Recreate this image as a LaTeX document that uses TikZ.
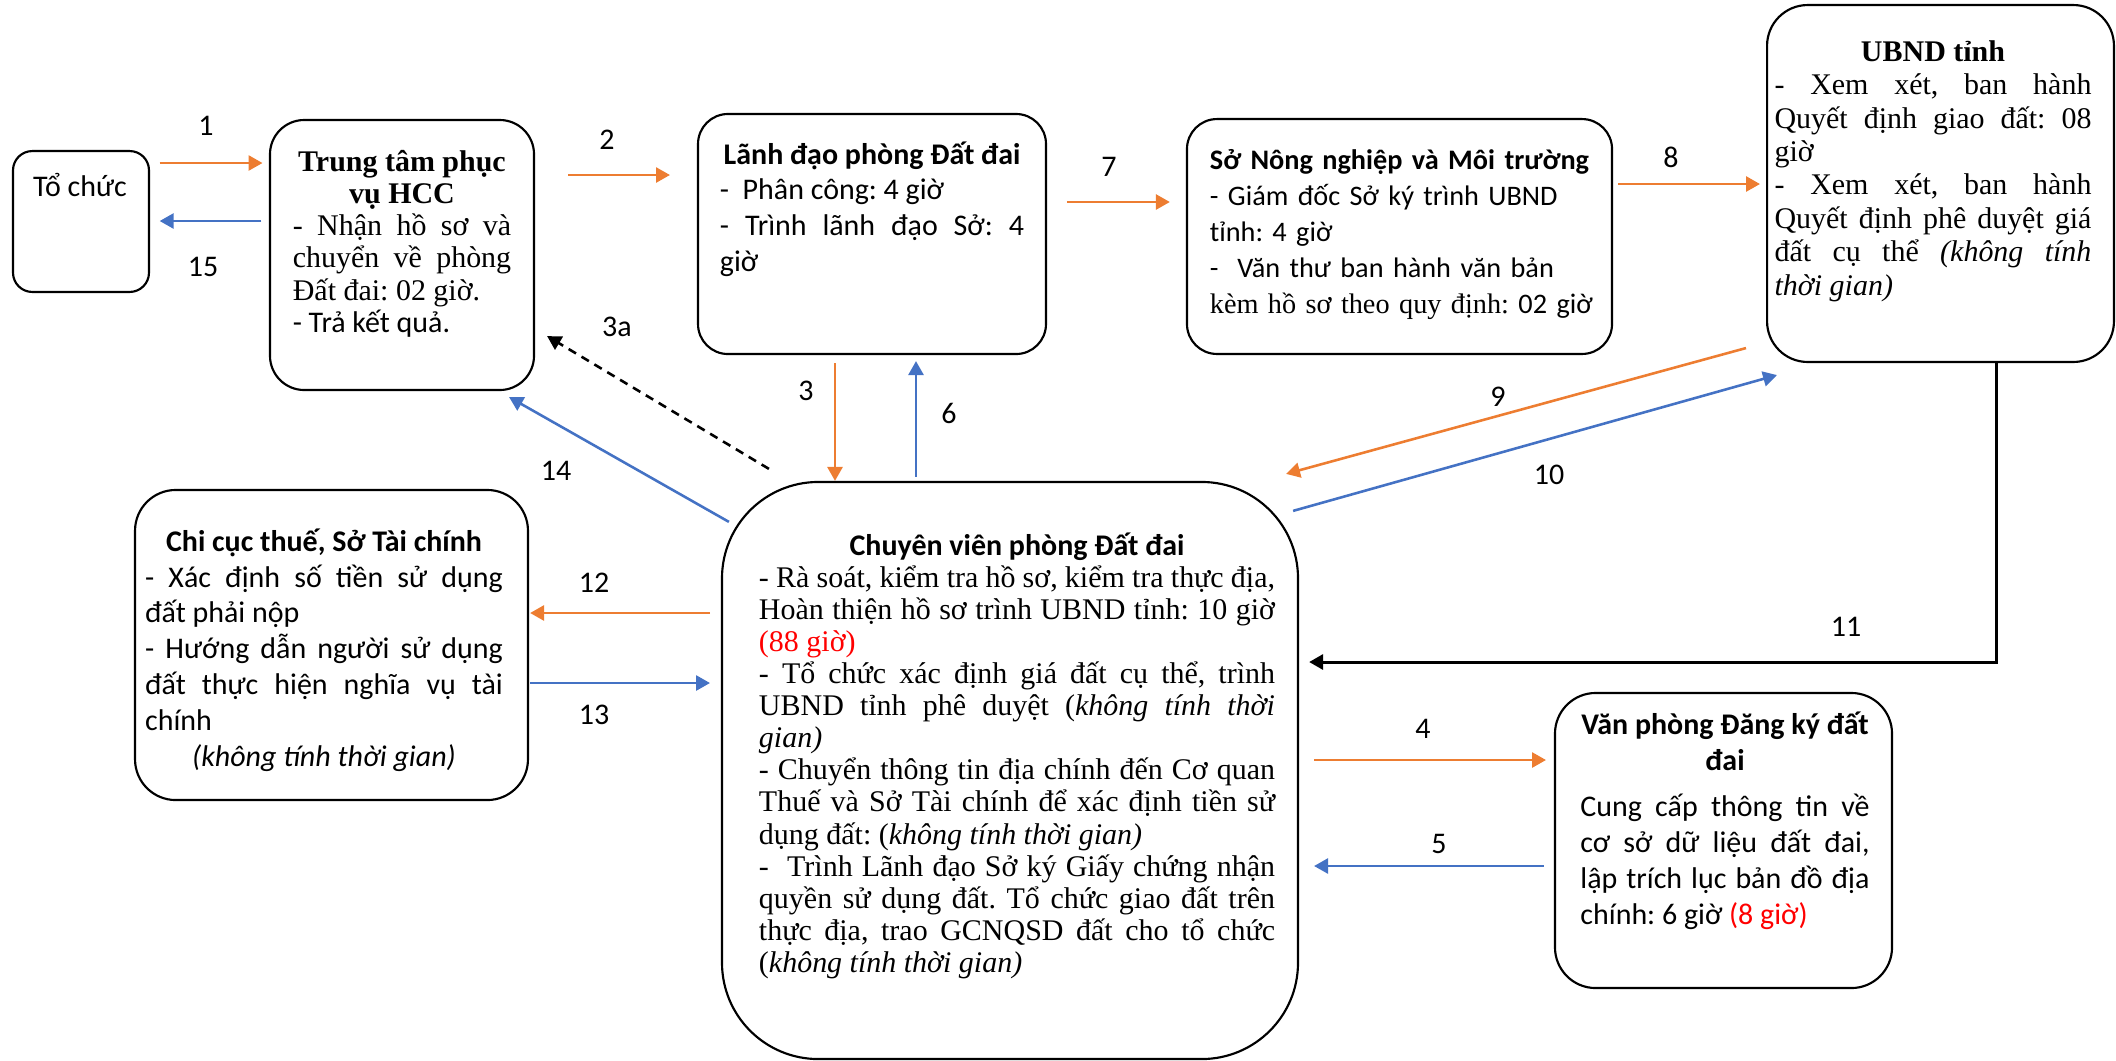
\documentclass[tikz,border=0pt]{standalone}
\usepackage{fontspec}
\setmainfont{Liberation Serif}
\newfontfamily\calibri{Carlito}
\usetikzlibrary{arrows.meta,calc}
\definecolor{orangeA}{RGB}{237,125,49}
\definecolor{blueA}{RGB}{68,114,196}
\frenchspacing
\tikzset{
box/.style={draw,line width=1pt,rounded corners=#1,inner sep=0pt},
cal/.style={font=\calibri\fontsize{14}{16.8}\selectfont\frenchspacing},
tms/.style={font=\fontsize{14}{15}\selectfont\frenchspacing},
txt/.style={anchor=north,inner sep=0pt,align=justify},
lbl/.style={cal,inner sep=0pt},
oarr/.style={draw=orangeA,line width=1.2pt,-{Triangle[length=6.5pt,width=7pt]}},
barr/.style={draw=blueA,line width=1.2pt,-{Triangle[length=6.5pt,width=7pt]}},
karr/.style={draw=black,line width=1.2pt,-{Triangle[length=6.5pt,width=7pt]}}
}

\begin{document}
\begin{tikzpicture}[x=0.467pt,y=0.467pt,yscale=-1]
\useasboundingbox (0,0) rectangle (2116,1060);

%Boxes
\node[box=9pt,minimum width=63.5pt,minimum height=65.8pt] (tochuc) at (81,221.5) {};
\node[box=16pt,minimum width=123.3pt,minimum height=126.1pt] (hcc) at (402,255) {};
\node[box=14pt,minimum width=162.5pt,minimum height=112.1pt] (ld) at (872,234) {};
\node[box=14pt,minimum width=198.5pt,minimum height=109.7pt] (so) at (1399.5,236.5) {};
\node[box=19pt,minimum width=162pt,minimum height=166.7pt] (ubnd) at (1940.5,183.5) {};
\node[box=19pt,minimum width=183.5pt,minimum height=144.8pt] (chicuc) at (331.5,645) {};
\node[box=45pt,minimum width=269pt,minimum height=269.5pt] (cv) at (1010,770.5) {};
\node[box=19pt,minimum width=157.4pt,minimum height=137.8pt] (vp) at (1723.5,840.5) {};

%Texts
\node[txt,cal] (tochuct) at (80,173) {Tổ chức};
\node[txt,tms,text width=102pt] (hcct) at (402,150) {{\bfseries\centering Trung tâm phục vụ HCC\par}
- Nhận hồ sơ và\linebreak chuyển về phòng\linebreak Đất đai: 02 giờ.\par
{\calibri - Trả kết quả.\par}};
\node[txt,cal,text width=142pt] (ldt) at (872,141) {{\bfseries\centering Lãnh đạo phòng Đất đai\par}
-~ Phân công: 4 giờ\par
- Trình lãnh đạo Sở: 4\linebreak giờ\par};
\node[txt,cal,font=\calibri\fontsize{13.2}{16.8}\selectfont,text width=200pt,align=left] (sot) at (1424,149) {{\bfseries Sở Nông nghiệp và Môi trường}\\
- Giám đốc Sở ký trình UBND\\ tỉnh: 4 giờ\\
-~ Văn thư ban hành văn bản\\ {\rmfamily kèm hồ sơ theo quy định:} 02 giờ};
\node[txt,tms,font=\fontsize{14}{15.6}\selectfont,text width=148pt] (ubndt) at (1933,40) {{\bfseries\centering UBND tỉnh\par}
- Xem xét, ban hành\linebreak Quyết định giao đất: 08\linebreak giờ\par
- Xem xét, ban hành\linebreak Quyết định phê duyệt giá\linebreak đất cụ thể \textit{(không tính\linebreak thời gian)}\par};
\node[txt,cal,text width=167pt] (chicuct) at (324,528) {{\bfseries\centering Chi cục thuế, Sở Tài chính\par}
- Xác định số tiền sử dụng\linebreak đất phải nộp\par
- Hướng dẫn người sử dụng\linebreak đất thực hiện nghĩa vụ tài\linebreak chính\par
{\centering\itshape (không tính thời gian)\par}};
\node[txt,tms,text width=241pt] (cvt) at (1017,532) {{\calibri\bfseries\centering Chuyên viên phòng Đất đai\par}
- Rà soát, kiểm tra hồ sơ, kiểm tra thực địa,\linebreak Hoàn thiện hồ sơ trình UBND tỉnh: 10 giờ\linebreak \textcolor{red}{(88 giờ)}\par
- Tổ chức xác định giá đất cụ thể, trình\linebreak UBND tỉnh phê duyệt (\textit{không tính thời\linebreak gian)}\par
- Chuyển thông tin địa chính đến Cơ quan\linebreak Thuế và Sở Tài chính để xác định tiền sử\linebreak dụng đất: (\textit{không tính thời gian)}\par
-~ Trình Lãnh đạo Sở ký Giấy chứng nhận\linebreak quyền sử dụng đất. Tổ chức giao đất trên\linebreak thực địa, trao GCNQSD đất cho tổ chức\linebreak (\textit{không tính thời gian)}\par};
\node[txt,cal,text width=135pt] (vpt) at (1725,711) {{\bfseries\centering Văn phòng Đăng ký đất đai\par}\vskip 5pt
Cung cấp thông tin về\linebreak cơ sở dữ liệu đất đai,\linebreak lập trích lục bản đồ địa\linebreak chính: 6 giờ \textcolor{red}{(8 giờ)}\par};

%Arrows
\draw[oarr,shorten <=4.5pt,shorten >=3pt] (tochuc.east |- 0,163) -- (hcc.west |- 0,163);
\draw[barr,shorten <=3.5pt,shorten >=4.5pt] (hcc.west |- 0,221) -- (tochuc.east |- 0,221);
\draw[oarr,shorten <=15.4pt,shorten >=12.6pt] (hcc.east |- 0,175) -- (ld.west |- 0,175);
\draw[oarr,shorten <=9.3pt,shorten >=7.5pt] (ld.east |- 0,202) -- (so.west |- 0,202);
\draw[oarr,shorten <=2.3pt,shorten >=2.8pt] (so.east |- 0,184) -- (ubnd.west |- 0,184);
\draw[oarr,shorten <=3.7pt] (ld.south -| 835,0) -- (cv.north -| 835,0);
\draw[barr,shorten <=2pt,shorten >=2.8pt] (cv.north -| 916,0) -- (ld.south -| 916,0);
\draw[karr,dash pattern=on 4pt off 3pt] ($(cv.north west)+(48,-12)$) -- ($(hcc.south east)+(12,-55)$);
\draw[barr] ($(cv.north west)+(8,41)$) -- ($(hcc.south east)+(-26,6)$);
\draw[oarr] ($(ubnd.south west)+(-20,-15)$) -- ($(cv.north east)+(-13,-7)$);
\draw[barr] ($(cv.north east)+(-6,30)$) -- ($(ubnd.south west)+(11,12)$);
\draw[karr,line width=1.4pt,shorten >=4.7pt] ($(ubnd.south)+(55.5,0)$) |- (cv.east |- 0,662);
\draw[oarr,shorten <=5.1pt,shorten >=0.5pt] (cv.west |- 0,613) -- (chicuc.east |- 0,613);
\draw[barr,shorten <=0.5pt,shorten >=5.1pt] (chicuc.east |- 0,683) -- (cv.west |- 0,683);
\draw[oarr,shorten <=7pt,shorten >=3.7pt] (cv.east |- 0,760) -- (vp.west |- 0,760);
\draw[barr,shorten <=4.7pt,shorten >=7pt] (vp.west |- 0,866) -- (cv.east |- 0,866);

%Labels
\node[lbl] (l1) at (206,126) {1};
\node[lbl] (l15) at (203,267) {15};
\node[lbl] (l2) at (607,140) {2};
\node[lbl] (l7) at (1109,167) {7};
\node[lbl] (l8) at (1671,157) {8};
\node[lbl] (l3) at (806,391) {3};
\node[lbl] (l6) at (949,413) {6};
\node[lbl] (l3a) at (617,327) {3a};
\node[lbl] (l14) at (556,471) {14};
\node[lbl] (l9) at (1498,397) {9};
\node[lbl] (l10) at (1549,475) {10};
\node[lbl] (l11) at (1846,627) {11};
\node[lbl] (l12) at (594,583) {12};
\node[lbl] (l13) at (594,715) {13};
\node[lbl] (l4) at (1423,729) {4};
\node[lbl] (l5) at (1439,844) {5};

\end{tikzpicture}
\end{document}
